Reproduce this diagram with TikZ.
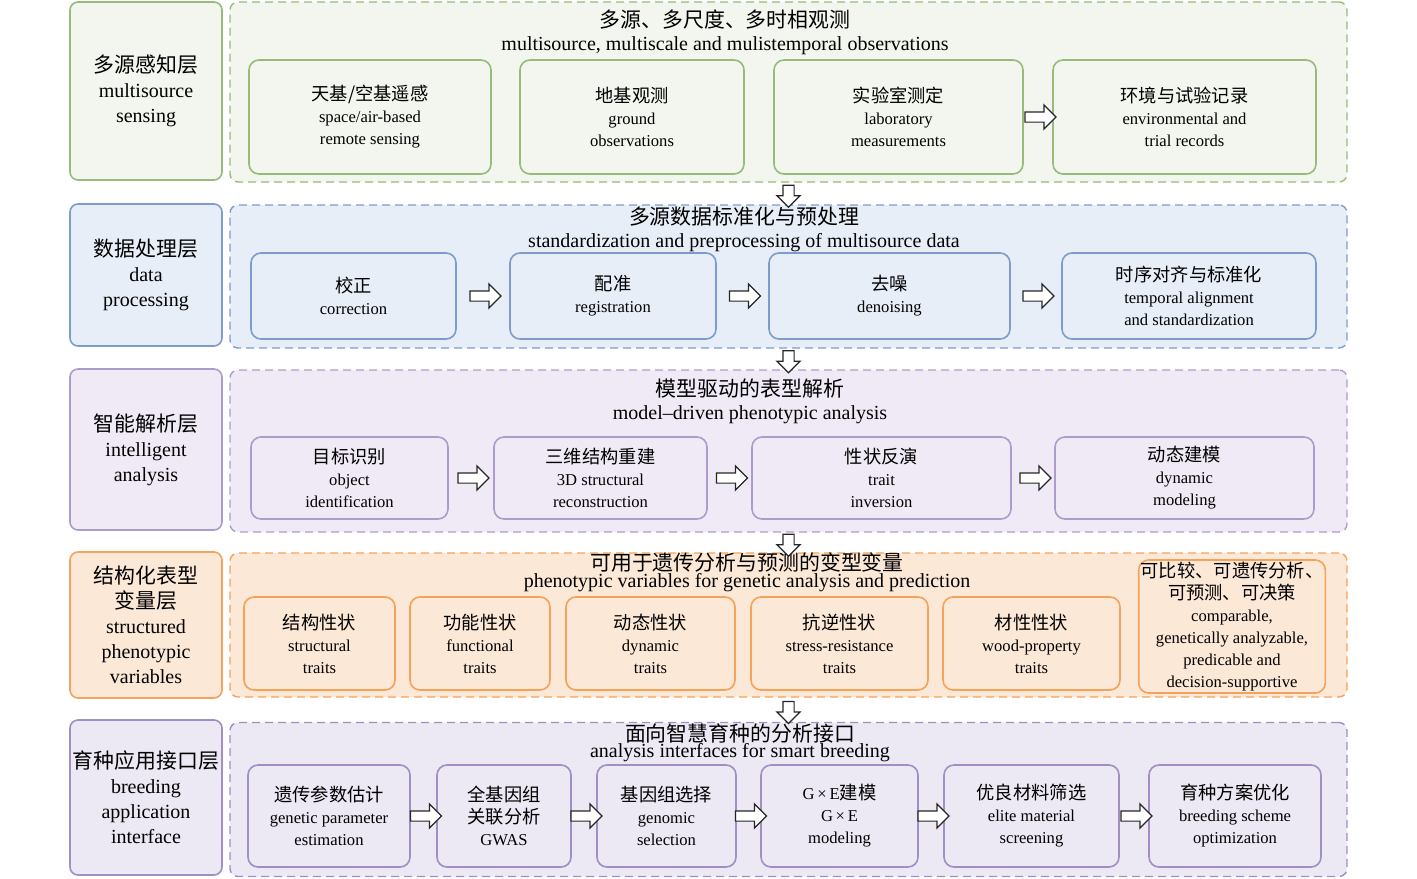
\documentclass[tikz,border=0pt]{standalone}
\usepackage{fontspec}
\usepackage{color}
\usepackage{tikz}
\usetikzlibrary{shapes.arrows,calc}

\setmainfont{Liberation Serif}
\newfontfamily\cjk[Scale=1.1]{Noto Sans CJK SC}
\newcommand{\zh}[1]{{\cjk #1}}
\newcommand{\zhl}[1]{{\fontsize{9.5}{12.5}\selectfont\cjk #1}}

\definecolor{grnline}{RGB}{152,186,122}
\definecolor{grnfill}{RGB}{242,246,238}
\definecolor{bluline}{RGB}{126,155,205}
\definecolor{blufill}{RGB}{232,238,248}
\definecolor{purline}{RGB}{172,156,204}
\definecolor{purfill}{RGB}{240,234,246}
\definecolor{orgline}{RGB}{245,162,90}
\definecolor{orgfill}{RGB}{252,232,214}
\definecolor{violine}{RGB}{160,142,196}
\definecolor{viofill}{RGB}{236,232,244}

\begin{document}
\begin{tikzpicture}[x=0.5pt,y=-0.5pt,
  layerbox/.style={draw, rounded corners=4pt, line width=0.8pt, align=center,
    inner sep=1pt, font=\fontsize{10}{12.5}\selectfont},
  groupbox/.style={draw, rounded corners=4pt, line width=0.7pt,
    dash pattern=on 4pt off 2.5pt},
  itembox/.style={draw, rounded corners=5pt, line width=0.8pt, align=center,
    inner sep=1pt, font=\fontsize{8.3}{11}\selectfont},
  titlecn/.style={font=\fontsize{9.5}{11}\selectfont\cjk},
  titleen/.style={font=\fontsize{10}{12}\selectfont},
  blockarr/.style={single arrow, draw=black!85, fill=white, line width=0.6pt,
    inner sep=2.25pt, minimum height=15.5pt, single arrow head extend=3.5pt},
  downarr/.style={blockarr, shape border rotate=270, inner sep=2.5pt,
    minimum height=11pt, single arrow head extend=3pt},
  row1/.style={draw=grnline, fill=grnfill},
  row2/.style={draw=bluline, fill=blufill},
  row3/.style={draw=purline, fill=purfill},
  row4/.style={draw=orgline, fill=orgfill},
  row5/.style={draw=violine, fill=viofill}]
\useasboundingbox (0,0) rectangle (1417,878);

% multisource sensing
\node [layerbox, row1, minimum width=76pt, minimum height=89pt] (lay1) at (146,91)
  {\zhl{多源感知层}\\multisource\\sensing};
\node [groupbox, row1, minimum width=558.5pt, minimum height=90pt] (grp1) at (788.5,92) {};
\node [titlecn] (t1) at (725,20) {多源、多尺度、多时相观测};
\node [titleen] (e1) at (725,46) {multisource, multiscale and mulistemporal observations};
\node [itembox, row1, minimum width=121pt, minimum height=57pt] (a1) at (370,117)
  {\zh{天基/空基遥感}\\space/air-based\\remote sensing};
\node [itembox, row1, minimum width=112pt, minimum height=57pt] (a2) at (632,117)
  {\zh{地基观测}\\ground\\observations};
\node [itembox, row1, minimum width=124.5pt, minimum height=57pt] (a3) at (898.5,117)
  {\zh{实验室测定}\\laboratory\\measurements};
\node [itembox, row1, minimum width=131.5pt, minimum height=57pt] (a4) at (1184.5,117)
  {\zh{环境与试验记录}\\environmental and\\trial records};
\node [blockarr] (ar13) at ($(a3.east)!0.5!(a4.west)$) {};

% data processing
\node [layerbox, row2, minimum width=76pt, minimum height=71pt] (lay2) at (146,275)
  {\zhl{数据处理层}\\data\\processing};
\node [groupbox, row2, minimum width=558.5pt, minimum height=71.5pt] (grp2) at (788.5,276.5) {};
\node [titlecn] (t2) at (744,217) {多源数据标准化与预处理};
\node [titleen] (e2) at (744,243) {standardization and preprocessing of multisource data};
\node [itembox, row2, minimum width=102.5pt, minimum height=43pt] (b1) at (353.5,296)
  {\zh{校正}\\correction};
\node [itembox, row2, minimum width=103pt, minimum height=43pt] (b2) at (613,296)
  {\zh{配准}\\registration};
\node [itembox, row2, minimum width=120.5pt, minimum height=43pt] (b3) at (889.5,296)
  {\zh{去噪}\\denoising};
\node [itembox, row2, minimum width=127pt, minimum height=43pt] (b4) at (1189,296)
  {\zh{时序对齐与标准化}\\temporal alignment\\and standardization};
\node [blockarr] (ar21) at ($(b1.east)!0.5!(b2.west)$) {};
\node [blockarr] (ar22) at ($(b2.east)!0.5!(b3.west)$) {};
\node [blockarr] (ar23) at ($(b3.east)!0.5!(b4.west)$) {};

% intelligent analysis
\node [layerbox, row3, minimum width=76pt, minimum height=80.5pt] (lay3) at (146,449.5)
  {\zhl{智能解析层}\\intelligent\\analysis};
\node [groupbox, row3, minimum width=558.5pt, minimum height=81pt] (grp3) at (788.5,451) {};
\node [titlecn] (t3) at (750,389) {模型驱动的表型解析};
\node [titleen] (e3) at (750,415) {model--driven phenotypic analysis};
\node [itembox, row3, minimum width=98.5pt, minimum height=41pt] (c1) at (349.5,478)
  {\zh{目标识别}\\object\\identification};
\node [itembox, row3, minimum width=106.5pt, minimum height=41pt] (c2) at (600.5,478)
  {\zh{三维结构重建}\\3D structural\\reconstruction};
\node [itembox, row3, minimum width=129.5pt, minimum height=41pt] (c3) at (881.5,478)
  {\zh{性状反演}\\trait\\inversion};
\node [itembox, row3, minimum width=129.5pt, minimum height=41pt] (c4) at (1184.5,478)
  {\zh{动态建模}\\dynamic\\modeling};
\node [blockarr] (ar31) at ($(c1.east)!0.5!(c2.west)$) {};
\node [blockarr] (ar32) at ($(c2.east)!0.5!(c3.west)$) {};
\node [blockarr] (ar33) at ($(c3.east)!0.5!(c4.west)$) {};

% structured phenotypic variables
\node [layerbox, row4, minimum width=76pt, minimum height=73pt] (lay4) at (146,625)
  {\zhl{结构化表型}\\\zhl{变量层}\\structured\\phenotypic\\variables};
\node [groupbox, row4, minimum width=558.5pt, minimum height=72pt] (grp4) at (788.5,625) {};
\node [titlecn] (t4) at (747,563) {可用于遗传分析与预测的变型变量};
\node [titleen] (e4) at (747,583) {phenotypic variables for genetic analysis and prediction};
\node [itembox, row4, minimum width=75.5pt, minimum height=46.5pt] (d1) at (319.5,643.5)
  {\zh{结构性状}\\structural\\traits};
\node [itembox, row4, minimum width=70pt, minimum height=46.5pt] (d2) at (480,643.5)
  {\zh{功能性状}\\functional\\traits};
\node [itembox, row4, minimum width=84.5pt, minimum height=46.5pt] (d3) at (650.5,643.5)
  {\zh{动态性状}\\dynamic\\traits};
\node [itembox, row4, minimum width=88.5pt, minimum height=46.5pt] (d4) at (839.5,643.5)
  {\zh{抗逆性状}\\stress-resistance\\traits};
\node [itembox, row4, minimum width=88.5pt, minimum height=46.5pt] (d5) at (1031.5,643.5)
  {\zh{材性性状}\\wood-property\\traits};
\node [itembox, row4, minimum width=93pt, minimum height=66.5pt] (d6) at (1232,626.5)
  {\zh{可比较、可遗传分析、}\\\zh{可预测、可决策}\\comparable,\\genetically analyzable,\\predicable and\\decision-supportive};

% breeding application interface
\node [layerbox, row5, minimum width=76pt, minimum height=77.5pt] (lay5) at (146,797.5)
  {\zhl{育种应用接口层}\\breeding\\application\\interface};
\node [groupbox, row5, minimum width=558.5pt, minimum height=77pt] (grp5) at (788.5,799.5) {};
\node [titlecn] (t5) at (740,734) {面向智慧育种的分析接口};
\node [titleen] (e5) at (740,753) {analysis interfaces for smart breeding};
\node [itembox, row5, minimum width=81pt, minimum height=51pt] (f1) at (329,816)
  {\zh{遗传参数估计}\\genetic parameter\\estimation};
\node [itembox, row5, minimum width=67pt, minimum height=51pt] (f2) at (504,816)
  {\zh{全基因组}\\\zh{关联分析}\\GWAS};
\node [itembox, row5, minimum width=69.5pt, minimum height=51pt] (f3) at (666.5,816)
  {\zh{基因组选择}\\genomic\\selection};
\node [itembox, row5, minimum width=78.5pt, minimum height=51pt] (f4) at (839.5,816)
  {G\,×\,E\zh{建模}\\G\,×\,E\\modeling};
\node [itembox, row5, minimum width=87.5pt, minimum height=51pt] (f5) at (1031.5,816)
  {\zh{优良材料筛选}\\elite material\\screening};
\node [itembox, row5, minimum width=86pt, minimum height=51pt] (f6) at (1235,816)
  {\zh{育种方案优化}\\breeding scheme\\optimization};
\node [blockarr] (ar51) at ($(f1.east)!0.5!(f2.west)$) {};
\node [blockarr] (ar52) at ($(f2.east)!0.5!(f3.west)$) {};
\node [blockarr] (ar53) at ($(f3.east)!0.5!(f4.west)$) {};
\node [blockarr] (ar54) at ($(f4.east)!0.5!(f5.west)$) {};
\node [blockarr] (ar55) at ($(f5.east)!0.5!(f6.west)$) {};

% between layers
\node [downarr] (dn1) at ($(grp1.south)!0.5!(grp2.north)$) {};
\node [downarr] (dn2) at ($(grp2.south)!0.5!(grp3.north)$) {};
\node [downarr] (dn3) at ($(grp3.south)!0.5!(grp4.north)$) {};
\node [downarr] (dn4) at ($(grp4.south)!0.5!(grp5.north)$) {};
\end{tikzpicture}
\end{document}
